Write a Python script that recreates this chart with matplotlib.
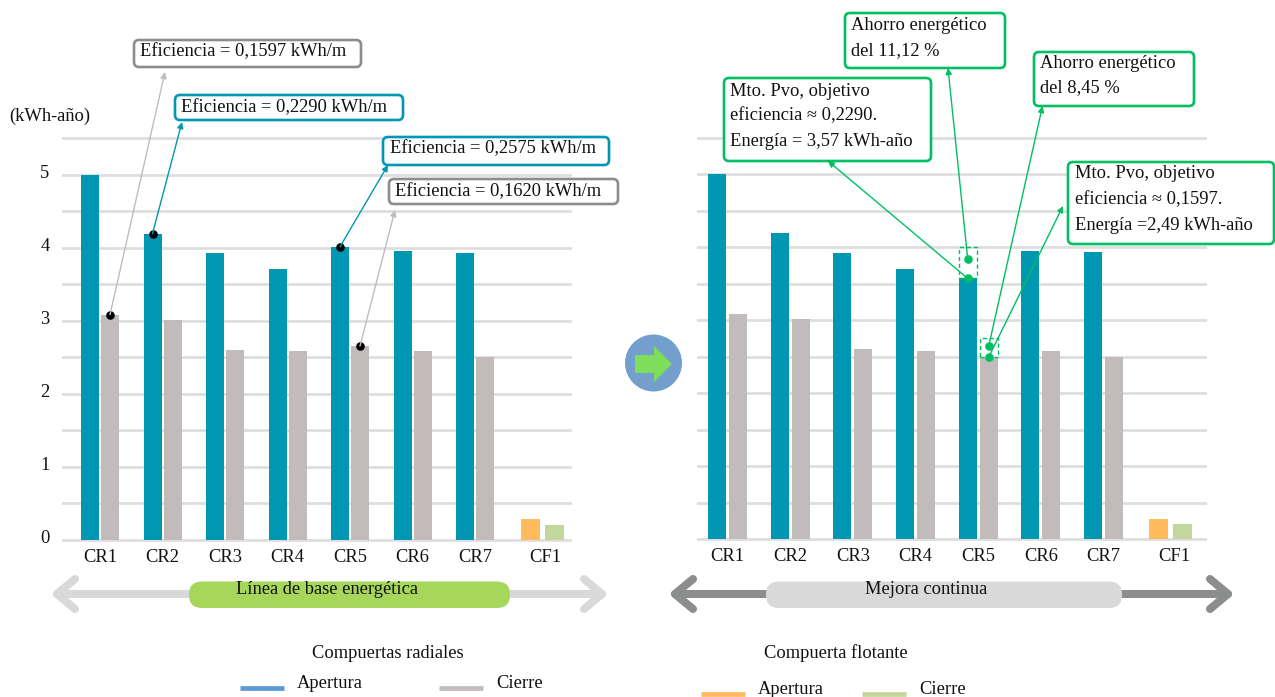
import matplotlib
matplotlib.use("Agg")
import matplotlib.pyplot as plt
from matplotlib.patches import FancyBboxPatch, Rectangle, Ellipse, Polygon
from matplotlib.lines import Line2D
from matplotlib.transforms import ScaledTranslation

plt.rcParams["font.family"] = ["Liberation Serif", "DejaVu Sans"]

# Energy per gate, kWh-year
gates = ["CR1", "CR2", "CR3", "CR4", "CR5", "CR6", "CR7"]
float_gate = "CF1"
base_open = [5.0, 4.19, 3.92, 3.70, 4.01, 3.95, 3.93]
base_close = [3.08, 3.01, 2.60, 2.58, 2.65, 2.58, 2.50]
improved_open = [5.0, 4.19, 3.92, 3.70, 3.57, 3.95, 3.93]
improved_close = [3.08, 3.01, 2.60, 2.58, 2.49, 2.58, 2.50]
float_open = [0.28]
float_close = [0.20]

# Levels of the two pairs of markers on the right-hand panel
target_open_level = 3.84
target_close_level = 2.64

grid_levels = [0, 0.5, 1, 1.5, 2, 2.5, 3, 3.5, 4, 4.5, 5, 5.5]
y_ticks = [0, 1, 2, 3, 4, 5]

TEAL = "#0097B2"
GREY = "#C1BBBB"
ORANGE = "#FFBB5C"
SAGE = "#C3D69B"
GRID = "#DEDCDC"
GREEN = "#00BF63"
BOX_GREY = "#8C8C8C"
W, H = 1275, 697
FS = 13.3

fig = plt.figure(figsize=(W / 100, H / 100), dpi=100, facecolor="white")


def make_panel(x0, x1, y_zero, first, step, offset, cf_center, cf_offset, cf_label,
               opening, closing, show_y):
    """Bar panel whose category index i sits at first + step * i pixels."""
    unit = 73.0
    pad = 0.04
    bottom_px = y_zero + pad * unit
    top_px = y_zero - (5.5 + pad) * unit
    ax = fig.add_axes([x0 / W, 1 - bottom_px / H, (x1 - x0) / W, (bottom_px - top_px) / H])
    ax.set_xlim((x0 - first) / step, (x1 - first) / step)
    ax.set_ylim(-pad, 5.5 + pad)
    for s in ax.spines.values():
        s.set_visible(False)
    ax.patch.set_alpha(0)
    idx = list(range(len(gates)))
    bw = 18 / step
    off = offset / step
    ax.bar([i - off for i in idx], opening, bw, color=TEAL, zorder=3)
    ax.bar([i + off for i in idx], closing, bw, color=GREY, zorder=3)
    c = (cf_center - first) / step
    co = cf_offset / step
    ax.bar([c - co], float_open, 19 / step, color=ORANGE, zorder=3)
    ax.bar([c + co], float_close, 19 / step, color=SAGE, zorder=3)
    for lv in grid_levels:
        ax.axhline(lv, color=GRID, lw=1.9, zorder=1)
    label_pos = idx + [(cf_label - first) / step]
    ax.set_xticks(label_pos, gates + [float_gate], fontsize=FS)
    ax.tick_params(axis="x", length=0, pad=4.5, colors="#111111")
    if show_y:
        ax.set_yticks(y_ticks, [str(t) for t in y_ticks], fontsize=FS)
        ax.tick_params(axis="y", length=0, pad=9, colors="#111111")
        lift = ScaledTranslation(0, 3 / 100, fig.dpi_scale_trans)
        for lab in ax.get_yticklabels():
            lab.set_transform(lab.get_transform() + lift)
    else:
        ax.set_yticks([])
    return ax, off


ax_l, off_l = make_panel(62, 572, 539.5, 100, 62.5, 10, 542.5, 12, 545,
                         base_open, base_close, True)
ax_r, off_r = make_panel(697, 1207, 539.0, 727.5, 62.67, 10.5, 1170.5, 12.3, 1174,
                         improved_open, improved_close, False)

# Full-figure layer in pixel units for callouts, arrows and captions
ov = fig.add_axes([0, 0, 1, 1], zorder=5)
ov.set_xlim(0, W)
ov.set_ylim(H, 0)
ov.axis("off")
ov.patch.set_alpha(0)


def label(x, y, s, ha="left"):
    ov.text(x, y + 1, s, ha=ha, va="center", fontsize=FS, color="#111111", zorder=8)


def callout(x0, y0, x1, y1, color, lines, tx, line_ys):
    r = 4
    ov.add_patch(FancyBboxPatch((x0 + r, y0 + r), x1 - x0 - 2 * r, y1 - y0 - 2 * r,
                                boxstyle=f"round,pad={r},rounding_size={r + 1}",
                                fc="white", ec=color, lw=1.9, zorder=6))
    for s, ly in zip(lines, line_ys):
        label(tx, ly, s)


def leader(ax, x, y, tip, color):
    ov.annotate("", xy=tip, xycoords="data", xytext=(x, y), textcoords=ax.transData,
                arrowprops=dict(arrowstyle="-|>", color=color, lw=1.0, mutation_scale=9,
                                shrinkA=0, shrinkB=0), zorder=7)


def dot(ax, x, y, color):
    ax.plot([x], [y], "o", ms=6.2, color=color, mec="none", zorder=6, clip_on=False)


# Left panel: measured efficiency
callout(134, 40, 361, 67, BOX_GREY, ["Eficiencia = 0,1597 kWh/m"], 140, [51])
callout(175, 95, 403, 120, TEAL, ["Eficiencia = 0,2290 kWh/m"], 181, [107])
callout(383, 137, 609, 165, TEAL, ["Eficiencia = 0,2575 kWh/m"], 390, [148])
callout(389, 179, 618, 204, BOX_GREY, ["Eficiencia = 0,1620 kWh/m"], 395, [191])

leader(ax_l, 0 + off_l, base_close[0], (165, 72), GREY)
leader(ax_l, 1 - off_l, base_open[1], (182, 122), TEAL)
leader(ax_l, 4 - off_l, base_open[4], (388, 165), TEAL)
leader(ax_l, 4 + off_l, base_close[4], (395, 210), GREY)
dot(ax_l, 0 + off_l, base_close[0], "black")
dot(ax_l, 1 - off_l, base_open[1], "black")
dot(ax_l, 4 - off_l, base_open[4], "black")
dot(ax_l, 4 + off_l, base_close[4], "black")

label(9, 115, "(kWh-año)")

# Right panel: targets and savings
callout(724, 78, 931, 161, GREEN,
        ["Mto. Pvo, objetivo", "eficiencia ≈ 0,2290.", "Energía = 3,57 kWh-año"],
        730, [90, 115, 140])
callout(845, 13, 1005, 68, GREEN, ["Ahorro energético", "del 11,12 %"], 851, [25, 50])
callout(1034, 52, 1194, 106, GREEN, ["Ahorro energético", "del 8,45 %"], 1040, [62, 87])
callout(1068, 162, 1274, 244, GREEN,
        ["Mto. Pvo, objetivo", "eficiencia ≈ 0,1597.", "Energía =2,49 kWh-año"],
        1075, [173, 199, 225])

bw_r = 18 / 62.67
ax_r.add_patch(Rectangle((4 - off_r - bw_r / 2, improved_open[4]), bw_r,
                         4.0 - improved_open[4], fc="none", ec=GREEN, lw=1.0,
                         ls=(0, (3, 2)), zorder=5, clip_on=False))
ax_r.add_patch(Rectangle((4 + off_r - bw_r / 2, improved_close[4]), bw_r,
                         2.75 - improved_close[4], fc="white", ec=GREEN, lw=1.0,
                         ls=(0, (3, 2)), zorder=5, clip_on=False))

leader(ax_r, 4 - off_r, improved_open[4], (828, 161), GREEN)
leader(ax_r, 4 - off_r, target_open_level, (948, 68), GREEN)
leader(ax_r, 4 + off_r, target_close_level, (1042.5, 106), GREEN)
leader(ax_r, 4 + off_r, improved_close[4], (1063, 206), GREEN)
dot(ax_r, 4 - off_r, improved_open[4], GREEN)
dot(ax_r, 4 - off_r, target_open_level, GREEN)
dot(ax_r, 4 + off_r, target_close_level, GREEN)
dot(ax_r, 4 + off_r, improved_close[4], GREEN)


def band(x0, x1, y, color, pill_x0, pill_x1, pill_color, text, text_x, head=21, rise=15):
    kw = dict(color=color, lw=5.8, solid_capstyle="round", solid_joinstyle="round", zorder=2)
    ov.add_line(Line2D([x0 + 3, x1 - 3], [y, y], **kw))
    ov.add_line(Line2D([x0 + head, x0 + 3, x0 + head], [y - rise, y, y + rise], **kw))
    ov.add_line(Line2D([x1 - head, x1 - 3, x1 - head], [y - rise, y, y + rise], **kw))
    ov.add_patch(FancyBboxPatch((pill_x0 + 13, 581.5 + 13), pill_x1 - pill_x0 - 26, 0.5,
                                boxstyle="round,pad=13,rounding_size=13",
                                fc=pill_color, ec="none", zorder=3))
    label(text_x, 589, text, ha="center")


band(54, 605, 594, "#D9D9D9", 189, 510, "#A6D75B", "Línea de base energética", 326.5)
band(672, 1231, 594, "#8C8E8D", 766, 1122, "#D9D9D9", "Mejora continua", 926)

# Transition marker between the panels
ov.add_patch(Ellipse((653.5, 363), 57, 57, fc="#729FCC", ec="none", zorder=3))
ov.add_patch(Polygon([(635, 355), (654, 355), (654, 346), (672, 364), (654, 382),
                      (654, 373), (635, 373)], closed=True, fc="#7EDD5B", ec="none", zorder=4))

# Key
label(388, 652, "Compuertas radiales", ha="center")
label(836, 652, "Compuerta flotante", ha="center")
for x0, x1, y, color, tx, ty, s in [
    (240, 284, 688, "#5B9BD5", 297, 682, "Apertura"),
    (439, 483, 688, GREY, 496, 682, "Cierre"),
    (701, 745, 694, ORANGE, 758, 688, "Apertura"),
    (862, 906, 694, SAGE, 919.5, 688, "Cierre"),
]:
    ov.add_line(Line2D([x0, x1], [y, y], color=color, lw=3.4, solid_capstyle="butt"))
    label(tx, ty, s)

fig.savefig("out.png", dpi=100)
